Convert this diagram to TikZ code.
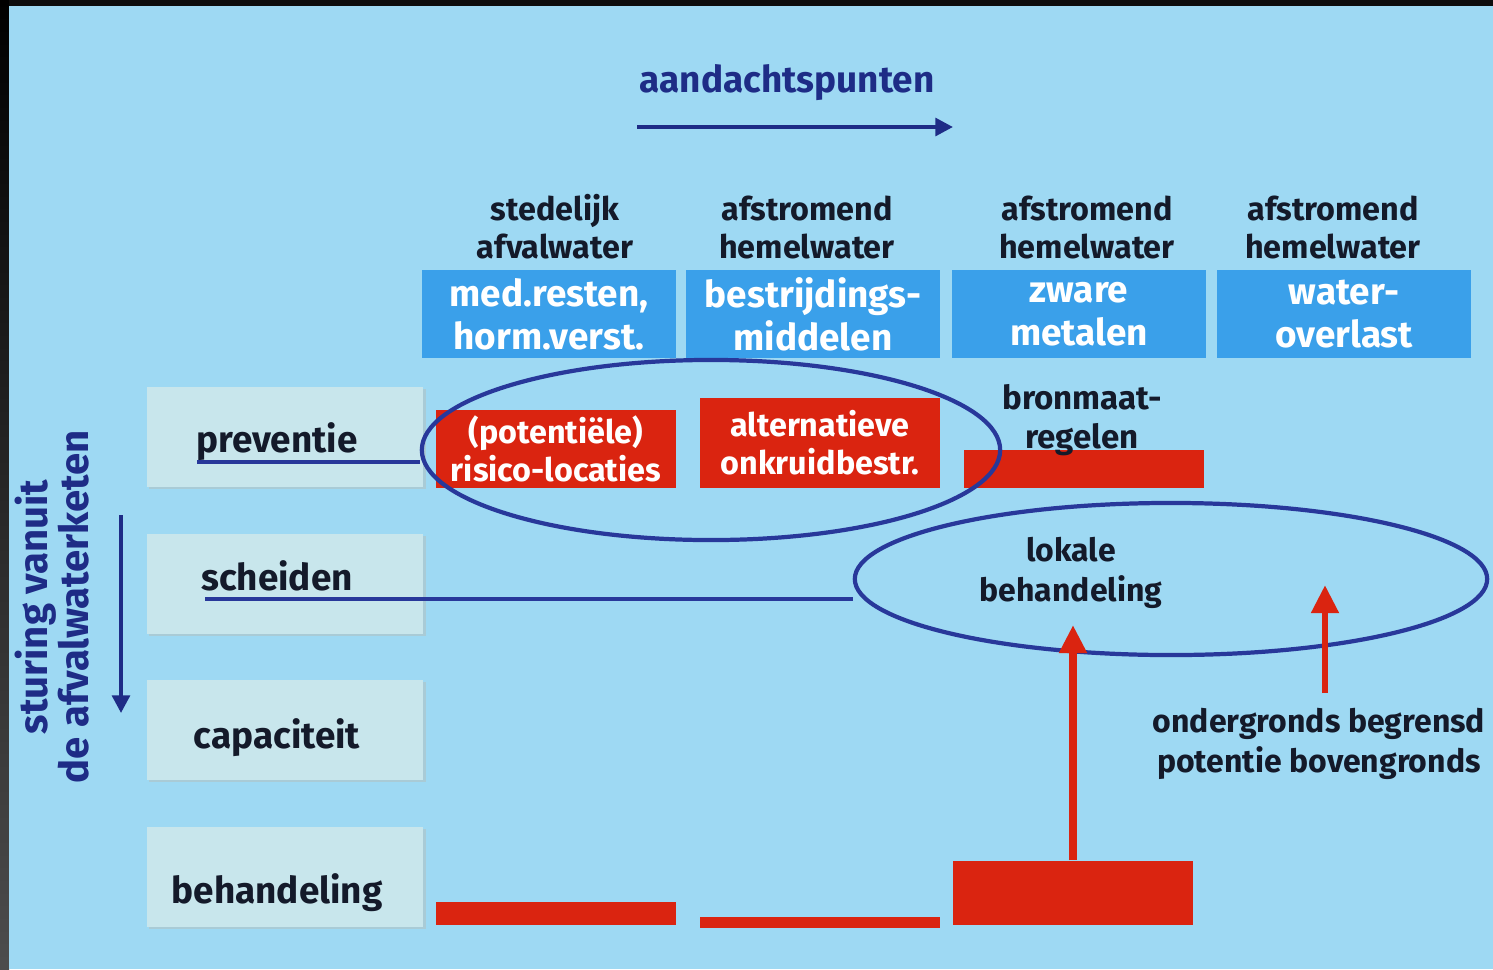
\documentclass[tikz,border=0pt]{standalone}
\usepackage{fontspec}
\setmainfont{Fira Sans}
\usetikzlibrary{positioning}
\usetikzlibrary{shapes.geometric}
\usetikzlibrary{arrows.meta}

\definecolor{skyback}{HTML}{9ED9F3}
\definecolor{navy}{HTML}{1E2C86}
\definecolor{ringblue}{HTML}{28389A}
\definecolor{headblue}{HTML}{3AA0EA}
\definecolor{rowfill}{HTML}{C8E6EC}
\definecolor{rowshade}{HTML}{A9CBD6}
\definecolor{alarmred}{HTML}{DA2410}
\definecolor{inkdark}{HTML}{141A2A}

\begin{document}
\begin{tikzpicture}[x=0.01cm, y=-0.01cm,
    every node/.style={text=inkdark, inner sep=0pt},
    colhead/.style={align=center, font=\bfseries\fontsize{9.2}{10.8}\selectfont},
    issuebox/.style={fill=headblue, text=white, minimum width=2.53cm, minimum height=0.88cm,
      align=center, font=\bfseries\fontsize{10.5}{12.2}\selectfont},
    rowbox/.style={fill=rowfill, minimum width=2.76cm, minimum height=1.0cm},
    rowlabel/.style={anchor=base, font=\bfseries\fontsize{10.5}{12}\selectfont},
    redbox/.style={fill=alarmred, text=white, minimum width=2.4cm, align=center,
      font=\bfseries\fontsize{9.2}{10.8}\selectfont},
    redbar/.style={fill=alarmred, minimum width=2.4cm},
    plain/.style={align=center, font=\bfseries\fontsize{9.1}{11.3}\selectfont},
    ring/.style={ellipse, draw=ringblue, line width=1.2pt},
    link/.style={draw=ringblue, line width=1.1pt},
    navyarrow/.style={draw=navy, line width=1.1pt, -{Triangle[width=5pt, length=5pt]}},
    redarrow/.style={draw=alarmred, line width=2.2pt, -{Triangle[width=7.5pt, length=8pt]}}]

  \path[use as bounding box] (0,0) rectangle (1493,969);
  \clip (0,0) rectangle (1493,969);

  % frame and background
  \fill[black!95] (0,0) rectangle (1493,969);
  \shade[top color=black, bottom color=black!70] (0,0) rectangle (9,969);
  \fill[skyback] (9,6) rectangle (1493,969);

  % title and direction
  \node[font=\bfseries\fontsize{10.5}{12}\selectfont, text=navy] (title) at (787,83) {aandachtspunten};
  \coordinate (t0) at (637,127);
  \coordinate (t1) at (953,127);
  \draw[navyarrow] (t0) -- (t1);

  % columns
  \node[colhead] (h1) at (555,227) {stedelijk\\afvalwater};
  \node[colhead] (h2) at (807,227) {afstromend\\hemelwater};
  \node[colhead] (h3) at (1087,227) {afstromend\\hemelwater};
  \node[colhead] (h4) at (1333,227) {afstromend\\hemelwater};

  \node[issuebox] (c1) at (549,314) {med.resten,\\horm.verst.};
  \node[issuebox] (c2) at (813,314) {bestrijdings-\\middelen};
  \node[issuebox] (c3) at (1079,314) {zware\\metalen};
  \node[issuebox] (c4) at (1344,314) {water-\\overlast};

  % rows
  \foreach \name/\y/\base/\txt in {prev/437/452/preventie, sche/584/590/scheiden,
      capa/730/748/capaciteit, beha/877/903/behandeling} {
    \fill[rowshade] (149,\y-48) rectangle (426,\y+52);
    \node[rowbox] (\name) at (285,\y) {};
    \node[rowlabel] (\name-txt) at (277,\base) {\txt};
  }

  \node[font=\bfseries\fontsize{11.4}{11.6}\selectfont, text=navy, rotate=90, align=center] (sturing) at (52,607) {sturing vanuit\\de afvalwaterketen};
  \coordinate (s0) at (121,515);
  \coordinate (s1) at (121,713);
  \draw[navyarrow] (s0) -- (s1);

  % measures
  \node[redbox, minimum height=0.78cm] (risk) at (556,449) {(potentiële)\\risico-locaties};
  \node[redbox, minimum height=0.89cm] (alt) at (820,443) {alternatieve\\onkruidbestr.};
  \node[redbar, minimum height=0.38cm] (bronbar) at (1084,469) {};
  \node[plain, font=\bfseries\fontsize{9.4}{11}\selectfont] (bron) at (1082,420) {bronmaat-\\regelen};

  \node[redbar, minimum height=0.23cm] (bar1) at (556,913) {};
  \node[redbar, minimum height=0.11cm] (bar2) at (820,922) {};
  \node[redbar, minimum height=0.64cm] (bar3) at (1073,893) {};

  % rings
  \node[ring, minimum width=5.78cm, minimum height=1.8cm] (ring1) at (711,450) {};
  \node[ring, minimum width=6.32cm, minimum height=1.52cm] (ring2) at (1171,579) {};
  \node[plain] (lokaal) at (1071,573) {lokale\\behandeling};

  \coordinate (p0) at (197,462);
  \draw[link] (p0) -- (p0 -| ring1.west);
  \coordinate (q0) at (205,599);
  \draw[link] (q0) -- (q0 -| ring2.west);

  \coordinate (tip1) at (1073,625);
  \draw[redarrow] (bar3.north) -- (tip1);
  \coordinate (a0) at (1325,693);
  \coordinate (tip2) at (1325,585);
  \draw[redarrow, line width=1.9pt] (a0) -- (tip2);

  \node[plain, anchor=west] (grens) at (1152,744) {ondergronds begrensd\\potentie bovengronds};

\end{tikzpicture}
\end{document}
